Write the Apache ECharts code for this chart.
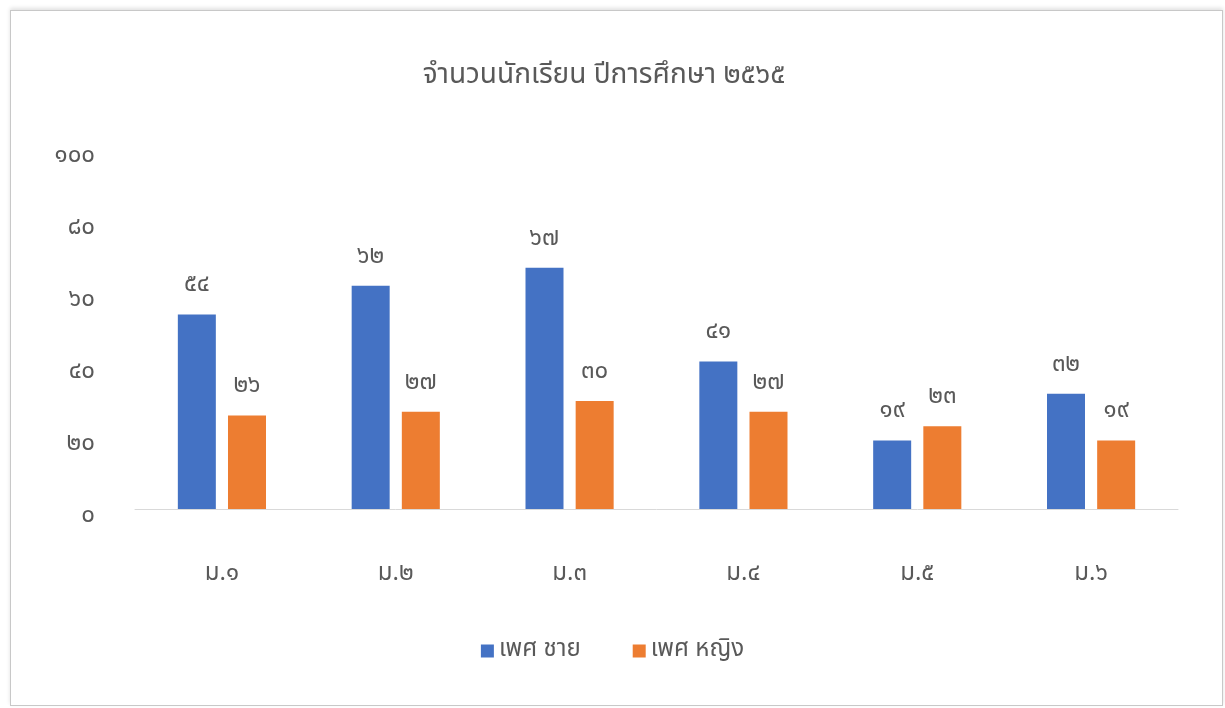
<!DOCTYPE html>
<html><head><meta charset="utf-8">
<script src="https://cdn.jsdelivr.net/npm/echarts@6/dist/echarts.min.js"></script>
<style>
html,body{margin:0;padding:0;background:#fff;}
#frame{position:absolute;left:10px;top:10px;width:1211px;height:694px;border:1px solid #c8c8c8;box-shadow:0 -2px 4px rgba(0,0,0,0.12);}
#c{position:absolute;left:0;top:0;width:1225px;height:708px;}
</style></head>
<body>
<div id="frame"></div>
<div id="c"></div>
<script>
const titleText = 'จำนวนนักเรียน ปีการศึกษา ๒๕๖๕';
const categories = ['ม.๑','ม.๒','ม.๓','ม.๔','ม.๕','ม.๖'];
const seriesNames = ['เพศ ชาย','เพศ หญิง'];
const maleValues = [54, 62, 67, 41, 19, 32];
const femaleValues = [26, 27, 30, 27, 23, 19];
const yTickLabels = ['๐','๒๐','๔๐','๖๐','๘๐','๑๐๐'];
const thaiDigits = ['๐','๑','๒','๓','๔','๕','๖','๗','๘','๙'];
function toThai(n){return String(n).split('').map(d=>thaiDigits[+d]||d).join('');}
const FONT = "'Noto Sans Thai','Noto Sans',sans-serif";
const txt = '#595959';
const chart = echarts.init(document.getElementById('c'));
chart.setOption({
  animation:false,
  title:{text:titleText,left:599,top:58,textAlign:'center',textStyle:{fontFamily:FONT,fontSize:28,fontWeight:'normal',color:txt}},
  legend:{data:seriesNames,bottom:40,left:'center',itemWidth:13,itemHeight:13,itemGap:52,icon:'rect',textStyle:{fontFamily:FONT,fontSize:24,color:txt}},
  grid:{left:135,right:47,top:149,bottom:199},
  xAxis:{type:'category',data:categories,axisLine:{lineStyle:{color:'#d9d9d9',width:1}},axisTick:{show:false},
    axisLabel:{margin:54,fontFamily:FONT,fontSize:24,color:txt}},
  yAxis:{type:'value',min:0,max:100,interval:20,splitLine:{show:false},axisLine:{show:false},axisTick:{show:false},
    axisLabel:{margin:40,verticalAlign:'top',lineHeight:16,fontFamily:FONT,fontSize:24,color:txt,formatter:v=>yTickLabels[Math.round(v/20)]}},
  series:[
    {name:seriesNames[0],type:'bar',data:maleValues,barWidth:38,barGap:'32%',itemStyle:{color:'#4472c4'},
     label:{show:true,position:'top',distance:16,fontFamily:FONT,fontSize:24,color:txt,formatter:p=>toThai(p.value)}},
    {name:seriesNames[1],type:'bar',data:femaleValues,barWidth:38,itemStyle:{color:'#ed7d31'},
     label:{show:true,position:'top',distance:16,fontFamily:FONT,fontSize:24,color:txt,formatter:p=>toThai(p.value)}}
  ]
});
</script>
</body></html>
